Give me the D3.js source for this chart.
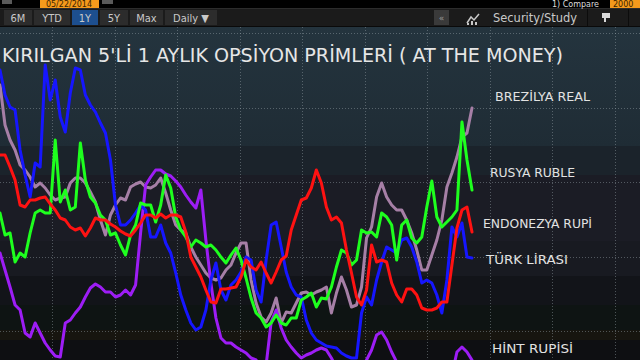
<!DOCTYPE html>
<html><head><meta charset="utf-8">
<script src="https://cdn.jsdelivr.net/npm/d3@7"></script>
<style>html,body{margin:0;padding:0;background:#000;overflow:hidden}</style>
</head><body><svg id="c" width="640" height="360"></svg>
<script>
// ---- data (index = trading-day sample, value = option premium units) ----
const days = d3.range(95);
const brezilyaReal = [27.5,23.5,22.0,21.0,19.5,19.0,18.3,17.3,17.7,17.2,16.5,16.0,16.2,16.3,17.7,18.2,18.2,17.7,16.8,15.8,14.0,12.5,14.5,15.5,16.2,16.0,17.3,17.6,17.8,17.3,17.2,17.5,18.2,16.7,15.0,13.5,13.0,12.7,11.3,10.3,9.5,8.7,8.2,8.0,8.2,9.0,9.5,10.7,11.7,11.7,8.0,5.7,4.3,3.8,4.7,6.2,3.7,4.8,4.7,5.7,6.7,6.8,6.5,6.8,7.0,7.3,4.7,6.7,8.3,7.0,5.3,5.5,7.3,12.2,13.3,16.3,17.7,16.3,15.5,15.0,15.0,14.0,12.7,11.0,9.0,9.0,10.5,12.0,14.0,17.3,18.7,20.3,22.3,22.7,25.2];
const rusyaRuble = [14.7,12.5,12.7,9.8,10.7,10.3,12.7,14.7,15.0,14.7,14.7,22.0,15.8,17.0,15.0,15.3,21.7,18.0,16.3,15.7,14.5,14.0,12.5,12.7,11.5,10.5,12.5,13.5,15.7,15.5,15.5,13.8,15.5,18.5,17.2,14.3,13.0,12.3,11.3,12.0,11.7,11.3,11.5,11.0,10.3,9.7,10.5,11.2,10.0,8.2,6.2,4.7,4.2,3.3,3.7,4.5,3.7,3.5,4.2,4.2,6.0,6.3,6.7,5.3,6.2,6.1,7.3,9.3,11.0,10.7,9.5,10.0,13.0,12.7,12.8,12.3,14.7,14.3,13.5,10.0,13.5,14.0,12.2,11.7,12.3,15.3,17.9,14.3,13.3,13.8,14.3,15.0,23.8,20.0,17.0];
const endonezyaRupi = [20.5,20.5,19.3,18.0,15.5,15.3,16.0,16.0,16.2,16.3,15.6,15.0,14.2,14.0,13.3,13.0,13.2,12.4,13.2,14.2,14.0,14.0,13.6,13.3,12.9,12.6,12.4,13.0,13.7,14.5,14.5,14.2,14.6,14.2,14.5,14.5,14.3,12.8,10.3,9.3,8.3,7.0,5.8,5.7,7.1,7.1,7.2,7.3,8.3,10.0,9.3,9.0,9.8,8.7,7.7,8.8,10.0,10.4,13.0,14.5,16.0,16.2,17.2,19.0,17.7,15.3,14.0,14.3,13.7,11.0,8.7,6.3,5.5,7.0,11.5,9.8,10.0,9.8,7.7,6.5,5.8,7.1,7.1,6.5,5.2,5.0,5.0,5.2,5.8,5.8,9.5,13.2,15.0,15.3,12.8];
const turkLirasi = [29.0,26.5,25.3,25.0,21.0,18.5,16.3,19.7,19.3,29.5,26.0,28.0,24.3,22.8,26.7,29.2,29.0,26.5,25.5,24.8,23.7,22.7,20.0,15.5,13.5,13.5,14.0,14.7,15.5,15.0,12.3,12.3,13.5,11.7,10.7,8.7,6.5,5.0,3.7,3.0,3.3,5.0,8.0,9.7,7.0,6.0,7.5,8.0,8.8,10.3,10.0,7.0,5.8,10.0,13.5,13.8,11.3,8.8,7.3,6.5,6.3,4.0,2.7,2.0,1.7,1.4,1.3,1.2,0.7,0.4,0.2,0.2,4.7,6.3,5.5,8.0,9.8,11.3,11.0,10.7,12.0,12.2,11.3,9.8,7.7,8.0,7.7,6.5,4.7,8.0,13.3,12.3,13.7,10.3,10.2];
const hintRupisi = [10.7,9.0,7.3,5.5,5.0,2.7,2.3,3.7,2.7,1.7,1.0,0.4,0.3,3.7,4.0,4.7,5.3,6.3,7.2,7.6,7.3,6.8,6.8,6.3,6.5,7.0,6.5,7.5,12.7,17.5,18.3,19.0,19.0,18.6,18.4,17.9,17.3,16.5,15.8,15.2,17.0,12.0,7.7,4.2,2.2,1.7,1.7,1.3,1.0,0.7,0.2,0.0,-0.8,-0.5,3.8,5.0,3.2,2.0,1.3,0.7,0.2,0.5,0.7,1.0,1.2,1.0,0.2,-0.8,-1.5,-1.5,-1.5,-1.5,-1.0,0.0,1.0,2.5,2.8,2.0,0.8,-0.2,-1.5,-1.5,-1.5,-1.5,-1.5,-1.5,-1.5,-1.5,-1.5,-1.5,-1.5,0.8,1.3,0.8,0.0];
const gridDays = [10.4,22.85,35.3,47.75,60.2,72.65,85.1,97.55,110,122.45];
const gridValues = [32.7,25.25,17.8,10.35,2.9];
const titleText = "KIRILGAN 5'Lİ 1 AYLIK OPSİYON PRİMLERİ ( AT THE MONEY)";
const seriesNames = ["BREZİLYA REAL","RUSYA RUBLE","ENDONEZYA RUPİ","TÜRK LİRASI","HİNT RUPİSİ"];

const series = [
  {name:seriesNames[0], values:brezilyaReal, color:"#a67fa6", lx:495, ly:101, lw:95},
  {name:seriesNames[4], values:hintRupisi, color:"#9d1df5", lx:492, ly:353, lw:81},
  {name:seriesNames[3], values:turkLirasi, color:"#1616ff", lx:486, ly:264, lw:82},
  {name:seriesNames[1], values:rusyaRuble, color:"#1eff1e", lx:490, ly:177, lw:85},
  {name:seriesNames[2], values:endonezyaRupi, color:"#ff1212", lx:483, ly:228, lw:109}
];

const svg = d3.select("#c");
const W = 640, H = 360, plotTop = 27;
const x = d3.scaleLinear().domain([0, 94]).range([0, 472]);
const y = d3.scaleLinear().domain([0, 33.2]).range([360, 28]);

// ---- background ----
const defs = svg.append("defs");
const g1 = defs.append("linearGradient").attr("id","bgTop").attr("x1",0).attr("y1",0).attr("x2",0).attr("y2",1);
g1.append("stop").attr("offset","0%").attr("stop-color","#24343e");
g1.append("stop").attr("offset","100%").attr("stop-color","#1f2c35");
defs.append("clipPath").attr("id","plotClip").append("rect").attr("x",0).attr("y",plotTop).attr("width",W).attr("height",H-plotTop);

svg.append("rect").attr("x",0).attr("y",0).attr("width",W).attr("height",H).attr("fill","#000");
svg.append("rect").attr("x",0).attr("y",plotTop).attr("width",W).attr("height",146-plotTop).attr("fill","url(#bgTop)");
const bands = [[146,175,"#1b232b"],[175,241,"#1b1c25"],[241,276,"#181a21"],[276,305,"#121419"],[305,330,"#0e1413"],[330,340,"#17150f"],[340,360,"#0e0f12"]];
svg.selectAll("rect.band").data(bands).enter().append("rect").attr("class","band")
  .attr("x",0).attr("y",d=>d[0]).attr("width",W).attr("height",d=>d[1]-d[0]).attr("fill",d=>d[2]);

// ---- grid ----
const grid = svg.append("g").attr("stroke","#9aa3aa").attr("stroke-opacity",0.45).attr("stroke-width",1).attr("stroke-dasharray","1,2");
grid.selectAll("line.v").data(gridDays).enter().append("line").attr("class","v")
  .attr("x1",d=>Math.round(x(d))+0.5).attr("x2",d=>Math.round(x(d))+0.5).attr("y1",plotTop).attr("y2",H);
grid.selectAll("line.h").data(gridValues).enter().append("line").attr("class","h")
  .attr("y1",d=>Math.round(y(d))+0.5).attr("y2",d=>Math.round(y(d))+0.5).attr("x1",0).attr("x2",W);

// ---- lines ----
const line = d3.line().x((d,i)=>x(days[i])).y(d=>y(d)).curve(d3.curveLinear);
const lg = svg.append("g").attr("clip-path","url(#plotClip)");
lg.selectAll("path").data(series).enter().append("path")
  .attr("d",d=>line(d.values)).attr("fill","none").attr("stroke",d=>d.color)
  .attr("stroke-width",3).attr("stroke-linejoin","round").attr("stroke-linecap","round");

// ---- labels ----
svg.append("g").selectAll("text").data(series).enter().append("text")
  .attr("x",d=>d.lx).attr("y",d=>d.ly).text(d=>d.name)
  .attr("fill","#e2e2e2").attr("font-family","'DejaVu Sans Condensed','DejaVu Sans',sans-serif")
  .attr("font-size",13).attr("textLength",d=>d.lw).attr("lengthAdjust","spacingAndGlyphs");

svg.append("text").attr("x",2).attr("y",62).text(titleText)
  .attr("fill","#e6e6e6").attr("font-family","'DejaVu Sans Condensed','DejaVu Sans',sans-serif")
  .attr("font-size",20).attr("textLength",561).attr("lengthAdjust","spacingAndGlyphs");

// ---- toolbar ----
const tb = svg.append("g");
tb.append("rect").attr("x",0).attr("y",0).attr("width",W).attr("height",8).attr("fill","#000");
tb.append("rect").attr("x",0).attr("y",8).attr("width",W).attr("height",19).attr("fill","#1b1b1b");
tb.append("rect").attr("x",0).attr("y",8).attr("width",W).attr("height",1).attr("fill","#2c2c2c");
tb.append("rect").attr("x",0).attr("y",26).attr("width",W).attr("height",1).attr("fill","#0a0a0a");
tb.append("rect").attr("x",2).attr("y",0).attr("width",10).attr("height",4).attr("fill","#5a5a5a");
tb.append("rect").attr("x",102).attr("y",0).attr("width",11).attr("height",4).attr("fill","#5a5a5a");
tb.append("rect").attr("x",40).attr("y",0).attr("width",59).attr("height",8).attr("fill","#f59a1c");
tb.append("text").attr("x",69).attr("y",7).attr("text-anchor","middle").attr("font-size",8).attr("font-family","'DejaVu Sans',sans-serif").attr("fill","#3a2200").text("05/22/2014");
tb.append("text").attr("x",552).attr("y",7).attr("font-size",8).attr("font-family","'DejaVu Sans',sans-serif").attr("fill","#dcdcdc").text("1) Compare");
tb.append("rect").attr("x",610).attr("y",0).attr("width",30).attr("height",8).attr("fill","#f59a1c");
tb.append("text").attr("x",613).attr("y",7).attr("font-size",8).attr("font-family","'DejaVu Sans',sans-serif").attr("fill","#3a2200").text("2000");

const buttons = [["6M",4,32],["YTD",34,70],["1Y",72,98],["5Y",100,128],["Max",130,163],["Daily ▼",165,217]];
buttons.forEach(b=>{
  const w = b[2]-b[1];
  tb.append("rect").attr("x",b[1]).attr("y",10).attr("width",w).attr("height",15)
    .attr("fill", b[0]==="1Y" ? "#1d4f8f" : "#2c2c2c");
  tb.append("text").attr("x",b[1]+w/2).attr("y",21.5).attr("text-anchor","middle")
    .attr("font-size",11).attr("font-family","'DejaVu Sans Condensed','DejaVu Sans',sans-serif")
    .attr("fill","#c9c9c9").text(b[0]);
});
tb.append("rect").attr("x",434).attr("y",10).attr("width",15).attr("height",15).attr("fill","#3a3a3a");
tb.append("text").attr("x",441.5).attr("y",21).attr("text-anchor","middle").attr("font-size",9).attr("fill","#9a9a9a").attr("font-family","'DejaVu Sans',sans-serif").text("«");
tb.append("path").attr("d","M467,23 L471,17 L474,20 L479,14").attr("stroke","#c8c8c8").attr("stroke-width",1.5).attr("fill","none");
tb.append("path").attr("d","M467,25 h2 v-2 h-2z M471,25 h2 v-4 h-2z M475,25 h2 v-3 h-2z").attr("fill","#c8c8c8");
tb.append("text").attr("x",493).attr("y",21.5).attr("font-size",11.5).attr("font-family","'DejaVu Sans Condensed','DejaVu Sans',sans-serif")
  .attr("fill","#c9c9c9").attr("textLength",84).attr("lengthAdjust","spacingAndGlyphs").text("Security/Study");
tb.append("rect").attr("x",587).attr("y",9).attr("width",1).attr("height",17).attr("fill","#0c0c0c");
tb.append("rect").attr("x",628).attr("y",9).attr("width",1).attr("height",17).attr("fill","#0c0c0c");
tb.append("path").attr("d","M602,13 h8 v5 h-4 v4 h-2 v-4 h-2z").attr("fill","#d8d8d8");
</script>
</body></html>
